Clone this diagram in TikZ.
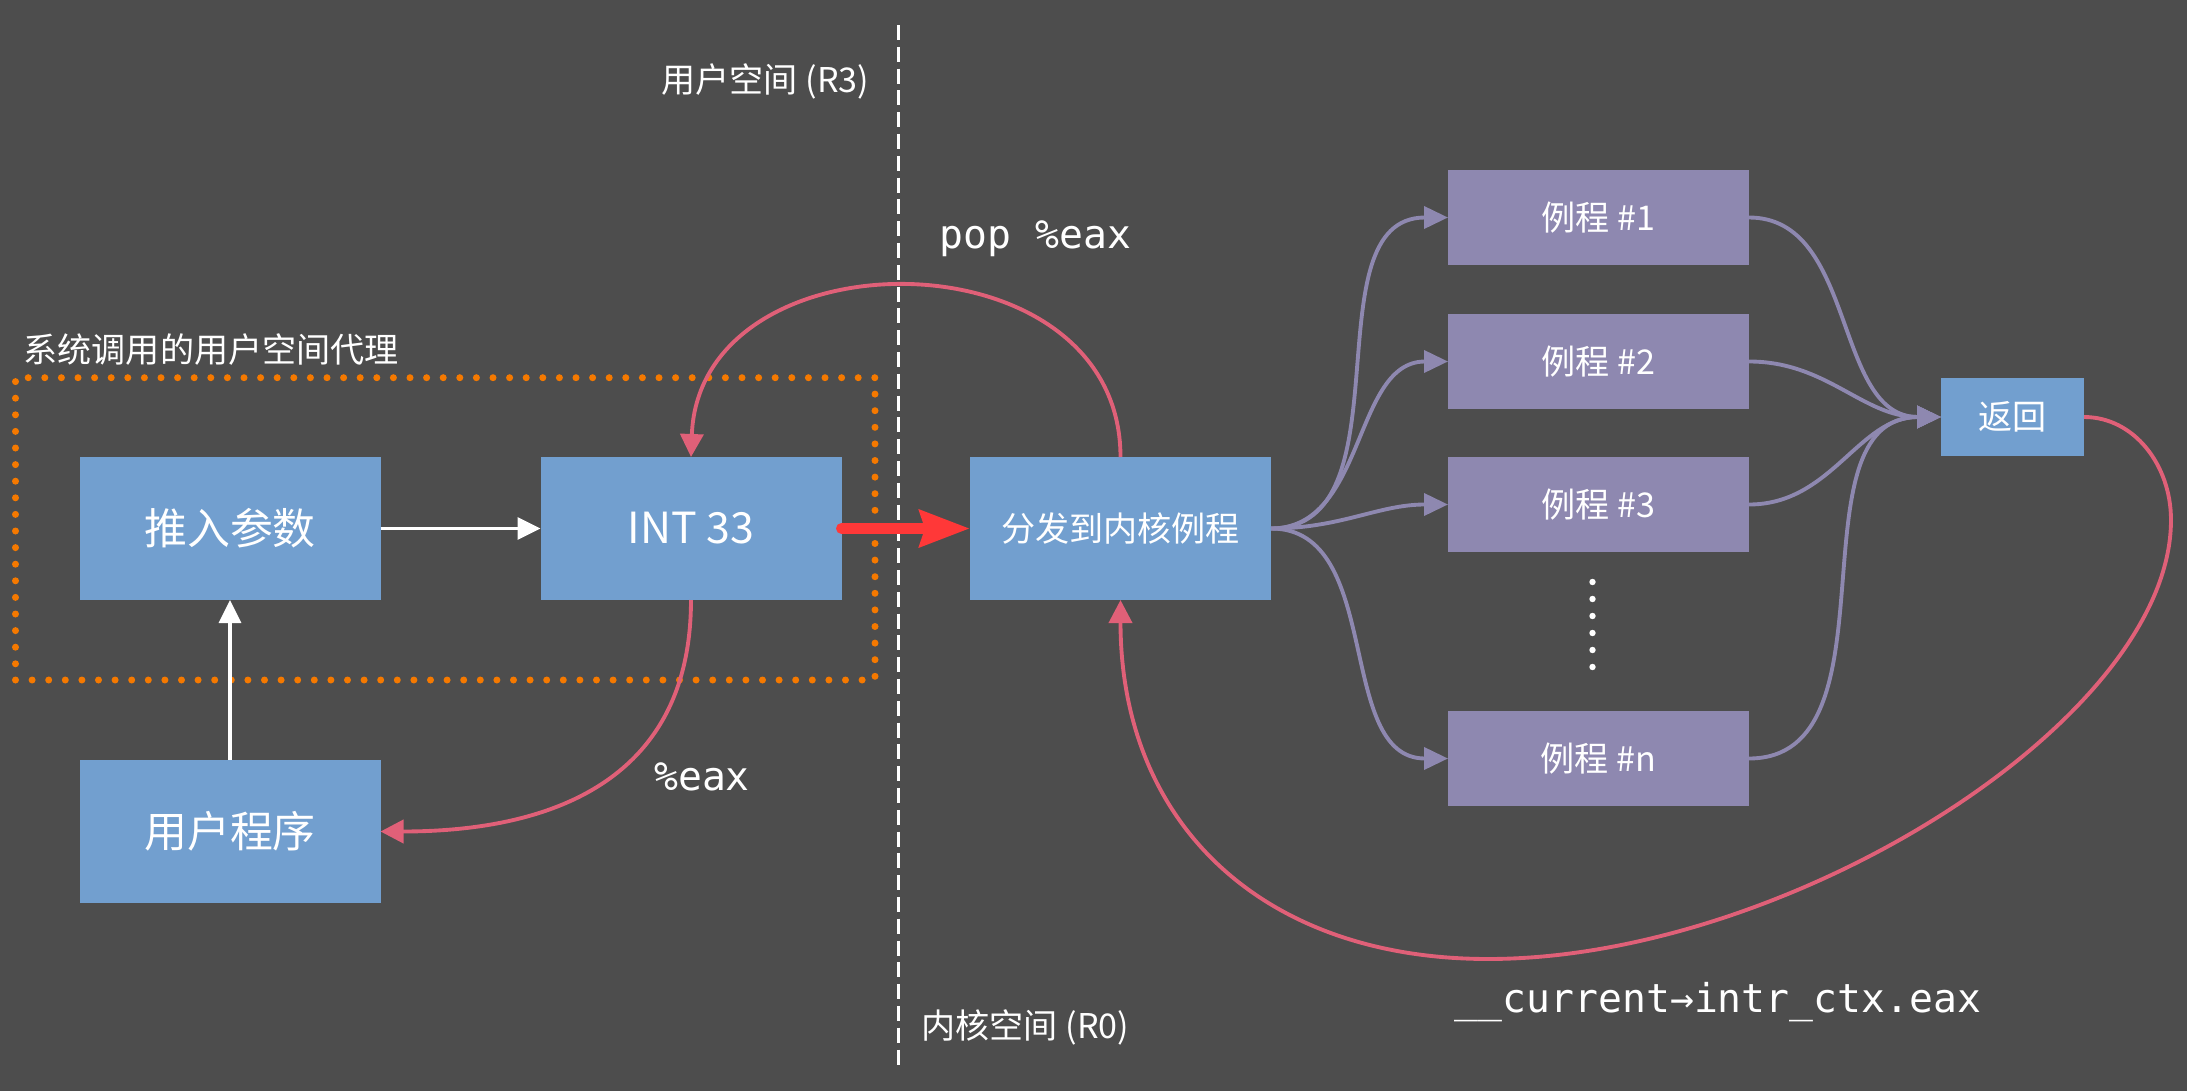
\documentclass[tikz,border=0pt]{standalone}
\usepackage{fontspec}
\setmainfont{Noto Sans CJK SC}
\newfontfamily\codefont{DejaVu Sans Mono}
\usetikzlibrary{arrows.meta, positioning}
\definecolor{bgdark}{HTML}{4D4D4D}
\definecolor{boxblue}{HTML}{729FCF}
\definecolor{boxpurple}{HTML}{8E88B0}
\definecolor{linepink}{HTML}{E06078}
\definecolor{linered}{HTML}{FF3838}
\definecolor{dotorange}{HTML}{F57900}
\definecolor{textlight}{HTML}{FFFFFF}

\begin{document}
\begin{tikzpicture}[
  every node/.style={text=textlight},
  bluebox/.style={
    rectangle, fill=boxblue,
    inner sep=0pt, outer sep=0pt,
    minimum width=3.01cm, minimum height=1.43cm,
    font=\fontsize{12.2}{14}\selectfont
  },
  routine/.style={
    rectangle, fill=boxpurple,
    inner sep=0pt, outer sep=0pt,
    minimum width=3.01cm, minimum height=0.95cm,
    font=\fontsize{9.7}{11}\selectfont
  },
  retbox/.style={
    rectangle, fill=boxblue,
    inner sep=0pt, outer sep=0pt,
    minimum width=1.43cm, minimum height=0.78cm,
    font=\fontsize{9.7}{11}\selectfont
  },
  proxybox/.style={
    rectangle, draw=dotorange, line width=0.07cm,
    line cap=round, dash pattern=on 0pt off 0.166cm,
    inner sep=0pt, outer sep=0pt
  },
  spacelabel/.style={
    inner sep=0pt, font=\fontsize{9.7}{11}\selectfont
  },
  codelabel/.style={
    inner sep=0pt, font=\codefont\fontsize{11.3}{13}\selectfont
  },
  boundary/.style={
    draw=textlight, line width=0.03cm,
    dash pattern=on 0.15cm off 0.068cm
  },
  userarrow/.style={
    -{Triangle[length=0.23cm, width=0.22cm]},
    line width=1pt, color=textlight
  },
  returnarrow/.style={
    -{Triangle[length=0.23cm, width=0.23cm]},
    line width=1.1pt, color=linepink
  },
  routearrow/.style={
    -{Triangle[length=0.24cm, width=0.22cm]},
    line width=1.1pt, color=boxpurple
  },
  syscallarrow/.style={
    -{Stealth[length=0.5cm, width=0.36cm, inset=0.05cm]},
    line width=0.11cm, color=linered, line cap=round
  }
]

% ── Background ────────────────────────────────────────────────────────────
\fill[bgdark] (0,0) rectangle (21.87,-10.91);
\useasboundingbox (0,0) rectangle (21.87,-10.91);

% ── Privilege boundary ────────────────────────────────────────────────────
\draw[boundary] (8.98,-0.25) -- (8.98,-10.70);
\node[spacelabel, anchor=base east] (r3lbl) at (8.70,-0.93) {用户空间 (R3)};
\node[spacelabel, anchor=base west] (r0lbl) at (9.21,-10.38) {内核空间 (R0)};

% ── User space proxy ──────────────────────────────────────────────────────
\node[proxybox, minimum width=8.595cm, minimum height=3.023cm]
  (proxy) at (4.4525,-5.2885) {};
\node[spacelabel, anchor=base west] (proxylbl) at (0.23,-3.62)
  {系统调用的用户空间代理};

\node[bluebox] (push) at (2.30,-5.285) {推入参数};
\node[bluebox, right=1.6cm of push] (int33) {INT 33};
\node[bluebox, below=1.6cm of push] (userprog) {用户程序};

% ── Kernel side ───────────────────────────────────────────────────────────
\node[bluebox, font=\fontsize{9.7}{11}\selectfont,
      right=1.285cm of int33] (dispatch) {分发到内核例程};

\node[routine] (r1) at (15.985,-2.175) {例程 \#1};
\node[routine] (r2) at (15.985,-3.615) {例程 \#2};
\node[routine] (r3) at (15.985,-5.045) {例程 \#3};
\node[routine] (rn) at (15.985,-7.585) {例程 \#n};

\foreach \y in {5.82,5.99,6.16,6.33,6.50,6.67}
  \fill[textlight] (15.925,-\y) circle (0.032);

\node[retbox] (ret) at (20.125,-4.17) {返回};

% ── User space arrows ─────────────────────────────────────────────────────
\draw[userarrow] (push.east) -- (int33.west);
\draw[userarrow] (userprog.north) -- (push.south);

\draw[syscallarrow] (int33.east) -- (dispatch.west);

% ── Dispatch to routines ──────────────────────────────────────────────────
\draw[routearrow] (dispatch.east) to[out=0, in=180] (r1.west);
\draw[routearrow] (dispatch.east) to[out=0, in=180] (r2.west);
\draw[routearrow] (dispatch.east) to[out=0, in=180] (r3.west);
\draw[routearrow] (dispatch.east) to[out=0, in=180] (rn.west);

\draw[routearrow] (r1.east) to[out=0, in=180] (ret.west);
\draw[routearrow] (r2.east) to[out=0, in=180] (ret.west);
\draw[routearrow] (r3.east) to[out=0, in=180] (ret.west);
\draw[routearrow] (rn.east) to[out=0, in=180] (ret.west);

% ── Return paths ──────────────────────────────────────────────────────────
\draw[returnarrow] (dispatch.north)
  .. controls +(0,2.27) and +(0.085,2.27) .. (int33.north);
\node[codelabel, anchor=base] (poplbl) at (10.355,-2.48) {pop \%eax};

\draw[returnarrow] (int33.south)
  .. controls +(0,-2.0) and +(1.39,0) .. (userprog.east);
\node[codelabel, anchor=base] (eaxlbl) at (7.02,-7.90) {\%eax};

\coordinate (loopright) at (21.71,-5.2);
\coordinate (loopbottom) at (14.88,-9.59);
\draw[returnarrow] (ret.east)
  .. controls +(0.5,0) and +(0,0.55) .. (loopright)
  .. controls +(0,-2.0) and +(3.0,0) .. (loopbottom)
  .. controls +(-2.26,0) and +(0,-2.23) .. (dispatch.south);
\node[codelabel, anchor=base] (ctxlbl) at (17.18,-10.12)
  {\_\_current→intr\_ctx.eax};

\end{tikzpicture}
\end{document}
